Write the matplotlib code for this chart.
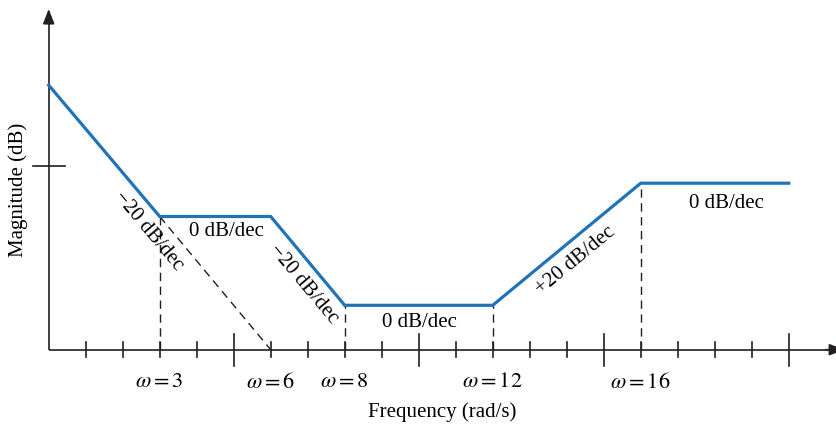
import matplotlib
matplotlib.use("Agg")
import matplotlib.pyplot as plt

# ---- data ----
break_x = [0, 3, 6, 8, 12, 16, 20]
magnitude = [7.15, 3.6, 3.6, 1.2, 1.2, 4.5, 4.5]
asymptote_x = [3, 6]
asymptote_y = [3.6, 0.0]
corner_labels = ["$\\omega = 3$", "$\\omega = 6$", "$\\omega = 8$", "$\\omega = 12$", "$\\omega = 16$"]
corner_x = [3, 6, 8, 12, 16]
dashed_x = [3, 8, 12, 16]
dashed_top = [3.6, 1.2, 1.2, 4.5]
tick_x = list(range(1, 21))
major_tick_x = [5, 10, 15, 20]
ytick_y = 4.97
slope_texts = ["\u221220 dB/dec", "0 dB/dec", "\u221220 dB/dec", "0 dB/dec", "+20 dB/dec", "0 dB/dec"]
slope_pos = [(2.71, 3.24), (4.81, 3.22), (6.88, 1.80), (10.03, 0.75), (14.25, 2.43), (18.32, 3.98)]
slope_rot = [-50, 0, -50, 0, 39.5, 0]

plt.rcParams['font.family'] = ['Liberation Serif', 'DejaVu Serif']
plt.rcParams['mathtext.fontset'] = 'stix'

fig = plt.figure(figsize=(8.37, 4.27), dpi=100)
ax = fig.add_axes([0, 0, 1, 1])
ax.set_xlim(-48.7 / 37, (837 - 48.7) / 37)
ax.set_ylim(-76.3 / 37, 350.7 / 37)
ax.axis('off')

axis_color = '#231f20'
# axes with arrows
ax.plot([0, 21.2], [0, 0], color=axis_color, lw=1.2, solid_capstyle='butt')
ax.plot([0, 0], [0, 8.9], color=axis_color, lw=1.2, solid_capstyle='butt')
ax.annotate('', xy=(21.5, 0), xytext=(21.0, 0), annotation_clip=False,
            arrowprops=dict(arrowstyle='-|>,head_length=0.9,head_width=0.35', color=axis_color, lw=1.2, shrinkA=0, shrinkB=0))
ax.annotate('', xy=(0, 9.21), xytext=(0, 8.8), annotation_clip=False,
            arrowprops=dict(arrowstyle='-|>,head_length=0.9,head_width=0.35', color=axis_color, lw=1.2, shrinkA=0, shrinkB=0))

# x ticks
for t in tick_x:
    if t in major_tick_x:
        ax.plot([t, t], [-0.43, 0.43], color=axis_color, lw=1.2)
    else:
        ax.plot([t, t], [-0.21, 0.21], color=axis_color, lw=1.2)
# y tick
ax.plot([-0.42, 0.44], [ytick_y, ytick_y], color=axis_color, lw=1.2)

# dashed guides
for xv, top in zip(dashed_x, dashed_top):
    ax.plot([xv, xv], [0, top], color=axis_color, lw=1.0, ls=(0, (6, 4)))
ax.plot(asymptote_x, asymptote_y, color=axis_color, lw=1.0, ls=(0, (6, 4)))

# Bode magnitude asymptotes
ax.plot(break_x, magnitude, color='#1f73b7', lw=2.3, solid_joinstyle='miter')

# labels
for lab, xv in zip(corner_labels, corner_x):
    ax.text(xv, -0.87, lab, ha='center', va='center', fontsize=16)

for txt, (px, py), rot in zip(slope_texts, slope_pos, slope_rot):
    ax.text(px, py, txt, ha='center', va='center', fontsize=15, rotation=rot, rotation_mode='anchor')

ax.text(10.63, -1.66, "Frequency (rad/s)", ha='center', va='center', fontsize=15)
ax.text(-0.83, 4.34, "Magnitude (dB)", ha='center', va='center', fontsize=15, rotation=90)

fig.savefig('out.png', dpi=100)
